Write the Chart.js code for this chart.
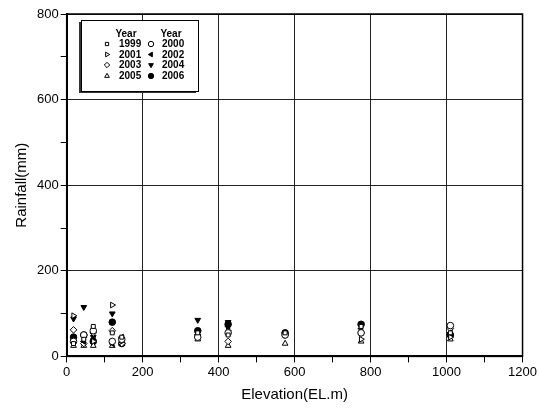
<!DOCTYPE html>
<html>
<head>
<meta charset="utf-8">
<script src="https://cdn.jsdelivr.net/npm/chart.js@4"></script>
<style>
  html, body { margin: 0; padding: 0; background: #fff; }
  #wrap { width: 539px; height: 412px; }
</style>
</head>
<body>
<div id="wrap"><canvas id="rain" width="539" height="412"></canvas></div>
<script>
// station elevations (EL.m)
const elevations = [18, 45, 70, 120, 145, 345, 425, 575, 775, 1010];

// rainfall (mm) per year, one value per station
const years = ['1999', '2000', '2001', '2002', '2003', '2004', '2005', '2006'];
const rain1999 = [30, 40, 70, 55, 45, 55, 50, 55, 70, 55];
const rain2000 = [35, 50, 60, 35, 40, 45, 55, 50, 55, 72];
const rain2001 = [95, 45, 35, 120, 35, 50, 60, 50, 40, 45];
const rain2002 = [40, 35, 40, 30, 45, 50, 70, 55, 65, 55];
const rain2003 = [62, 30, 55, 60, 30, 50, 35, 50, 55, 65];
const rain2004 = [88, 115, 45, 100, 40, 85, 80, 50, 75, 50];
const rain2005 = [25, 25, 25, 25, 30, 40, 25, 30, 35, 40];
const rain2006 = [45, 50, 35, 80, 30, 60, 75, 55, 75, 50];

const xTicks = [0, 200, 400, 600, 800, 1000, 1200];
const yTicks = [0, 200, 400, 600, 800];

// marker look per year: [pointStyle, rotation, filled]
const markers = [
    ['rect', 0, false],
    ['circle', 0, false],
    ['triangle', 90, false],
    ['triangle', -90, true],
    ['rectRot', 0, false],
    ['triangle', 180, true],
    ['triangle', 0, false],
    ['circle', 0, true]
];

const series = [rain1999, rain2000, rain2001, rain2002, rain2003, rain2004, rain2005, rain2006];

const datasets = series.map((vals, i) => ({
    label: years[i],
    data: elevations.map((e, j) => ({ x: e, y: vals[j] })),
    pointStyle: markers[i][0],
    rotation: markers[i][1],
    backgroundColor: markers[i][2] ? '#000' : '#fff',
    borderColor: '#000',
    borderWidth: 1,
    pointRadius: markers[i][0] === 'rect' ? 2.8 : 3.3,
    showLine: false
}));

// box legend with "Year" headers, two columns
const yearLegend = {
    id: 'yearLegend',
    afterDraw(chart) {
        const ctx = chart.ctx;
        const bx = 81, by = 20, bw = 117, bh = 71;
        ctx.save();
        ctx.fillStyle = '#333';
        ctx.fillRect(bx - 2, by + 2, bw, bh);
        ctx.fillStyle = '#fff';
        ctx.fillRect(bx, by, bw, bh);
        ctx.strokeStyle = '#000';
        ctx.lineWidth = 1;
        ctx.strokeRect(bx + 0.5, by + 0.5, bw, bh);

        ctx.fillStyle = '#000';
        ctx.font = 'bold 10px Arial, "Liberation Sans", sans-serif';
        ctx.textBaseline = 'middle';
        ctx.textAlign = 'center';
        ctx.fillText('Year', 126, 34);
        ctx.fillText('Year', 171, 34);

        const rowY = [44, 54.5, 65, 76];
        const colMark = [107, 151];
        const colText = [119, 162];
        ctx.textAlign = 'left';
        years.forEach((yr, i) => {
            const col = i % 2, row = Math.floor(i / 2);
            const m = markers[i];
            ctx.fillStyle = m[2] ? '#000' : '#fff';
            ctx.strokeStyle = '#000';
            ctx.lineWidth = 1;
            Chart.helpers.drawPoint(ctx, {
                pointStyle: m[0], rotation: m[1],
                radius: m[0] === 'rect' ? 2.3 : 2.7, borderWidth: 1
            }, colMark[col], rowY[row]);
            ctx.fillStyle = '#000';
            ctx.fillText(yr, colText[col], rowY[row] + 0.5);
        });
        ctx.restore();
    }
};

// frame round the plot area
const frame = {
    id: 'frame',
    afterDatasetsDraw(chart) {
        const a = chart.chartArea, ctx = chart.ctx;
        ctx.save();
        ctx.strokeStyle = '#000';
        ctx.lineWidth = 1.5;
        ctx.strokeRect(a.left, a.top, a.right - a.left, a.bottom - a.top);
        ctx.restore();
    }
};

const tickFont = { family: 'Arial, "Liberation Sans", sans-serif', size: 13 };
const titleFont = { family: 'Arial, "Liberation Sans", sans-serif', size: 15 };

new Chart(document.getElementById('rain'), {
    type: 'scatter',
    data: { datasets },
    plugins: [frame, yearLegend],
    options: {
        responsive: false,
        animation: false,
        layout: { padding: { left: 9, right: 11, top: 14, bottom: 4 } },
        plugins: { legend: { display: false }, tooltip: { enabled: false } },
        scales: {
            x: {
                type: 'linear',
                min: 0, max: 1200,
                afterBuildTicks: axis => {
                    axis.ticks = [];
                    for (let v = 0; v <= 1200; v += 100) axis.ticks.push({ value: v });
                },
                ticks: {
                    autoSkip: false, maxRotation: 0, color: '#000', font: tickFont, padding: 2,
                    callback: v => xTicks.includes(v) ? String(v) : ''
                },
                grid: {
                    color: c => (c.tick && c.tick.value % 200 === 0) ? '#222' : 'rgba(0,0,0,0)',
                    lineWidth: 1,
                    tickColor: '#000',
                    tickLength: 6,
                    drawTicks: true
                },
                border: { color: '#000', width: 2 },
                title: { display: true, text: 'Elevation(EL.m)', color: '#000', font: titleFont, padding: { top: 4 } }
            },
            y: {
                type: 'linear',
                min: 0, max: 800,
                afterBuildTicks: axis => {
                    axis.ticks = [];
                    for (let v = 0; v <= 800; v += 100) axis.ticks.push({ value: v });
                },
                ticks: {
                    autoSkip: false, color: '#000', font: tickFont, padding: 2,
                    callback: v => yTicks.includes(v) ? String(v) : ''
                },
                grid: {
                    color: c => (c.tick && c.tick.value % 200 === 0) ? '#222' : 'rgba(0,0,0,0)',
                    lineWidth: 1,
                    tickColor: '#000',
                    tickLength: 6
                },
                border: { color: '#000', width: 2 },
                title: { display: true, text: 'Rainfall(mm)', color: '#000', font: titleFont, padding: { bottom: 4 } }
            }
        }
    }
});
</script>
</body>
</html>
